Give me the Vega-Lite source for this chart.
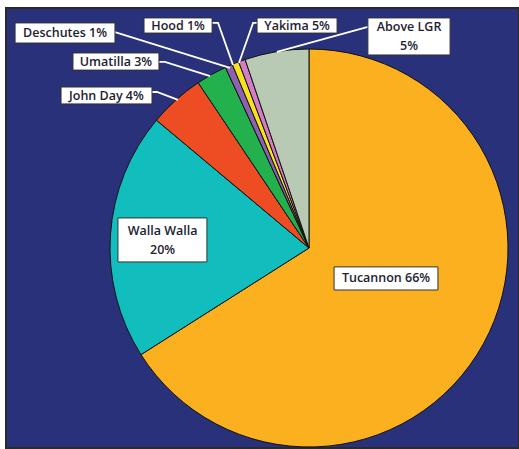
{
  "$schema": "https://vega.github.io/schema/vega-lite/v6.json",
  "autosize": {"type": "fit", "contains": "padding"},
  "width": 519,
  "height": 449,
  "padding": {"left": 6, "top": 8, "right": 0, "bottom": 1},
  "background": "white",
  "config": {"view": {"fill": "#28317A", "stroke": "#2a2a2a", "strokeWidth": 2}},
  "datasets": {
    "slices": [
      {"region": "Tucannon", "idx": 1, "value": 66.0},
      {"region": "Walla Walla", "idx": 2, "value": 20.1},
      {"region": "John Day", "idx": 3, "value": 4.5},
      {"region": "Umatilla", "idx": 4, "value": 2.5},
      {"region": "Deschutes", "idx": 5, "value": 0.6},
      {"region": "Hood", "idx": 6, "value": 0.55},
      {"region": "Yakima", "idx": 7, "value": 0.55},
      {"region": "Above LGR", "idx": 8, "value": 5.2}
    ],
    "labels": [
      {"region": "Tucannon", "text": "Tucannon 66%", "x": 0.387, "y": -0.153, "x1": 0.126, "x2": 0.648, "y1": -0.211, "y2": -0.095},
      {"region": "Walla Walla", "text": "Walla Walla\n20%", "x": -0.736, "y": 0.040, "x1": -0.960, "x2": -0.513, "y1": -0.070, "y2": 0.151},
      {"region": "John Day", "text": "John Day 4%", "x": -1.018, "y": 0.766, "x1": -1.246, "x2": -0.789, "y1": 0.724, "y2": 0.809},
      {"region": "Umatilla", "text": "Umatilla 3%", "x": -0.970, "y": 0.937, "x1": -1.186, "x2": -0.754, "y1": 0.894, "y2": 0.980},
      {"region": "Deschutes", "text": "Deschutes 1%", "x": -1.226, "y": 1.080, "x1": -1.477, "x2": -0.975, "y1": 1.030, "y2": 1.131},
      {"region": "Hood", "text": "Hood 1%", "x": -0.658, "y": 1.118, "x1": -0.829, "x2": -0.487, "y1": 1.080, "y2": 1.156},
      {"region": "Yakima", "text": "Yakima 5%", "x": -0.060, "y": 1.118, "x1": -0.261, "x2": 0.141, "y1": 1.080, "y2": 1.156},
      {"region": "Above LGR", "text": "Above LGR\n5%", "x": 0.503, "y": 1.063, "x1": 0.296, "x2": 0.709, "y1": 0.970, "y2": 1.156}
    ],
    "leaders": [
      {"region": "Deschutes", "seq": 1, "x": -0.975, "y": 1.085},
      {"region": "Deschutes", "seq": 2, "x": -0.397, "y": 0.905},
      {"region": "Hood", "seq": 1, "x": -0.487, "y": 1.131},
      {"region": "Hood", "seq": 2, "x": -0.457, "y": 1.131},
      {"region": "Hood", "seq": 3, "x": -0.382, "y": 0.920},
      {"region": "Yakima", "seq": 1, "x": -0.261, "y": 1.131},
      {"region": "Yakima", "seq": 2, "x": -0.281, "y": 1.131},
      {"region": "Yakima", "seq": 3, "x": -0.352, "y": 0.930},
      {"region": "Above LGR", "seq": 1, "x": 0.296, "y": 1.111},
      {"region": "Above LGR", "seq": 2, "x": -0.161, "y": 0.985},
      {"region": "Umatilla", "seq": 1, "x": -0.754, "y": 0.935},
      {"region": "Umatilla", "seq": 2, "x": -0.724, "y": 0.935},
      {"region": "Umatilla", "seq": 3, "x": -0.497, "y": 0.864},
      {"region": "John Day", "seq": 1, "x": -0.789, "y": 0.784},
      {"region": "John Day", "seq": 2, "x": -0.764, "y": 0.784},
      {"region": "John Day", "seq": 3, "x": -0.658, "y": 0.744}
    ]
  },
  "layer": [
    {
      "data": {"name": "slices"},
      "mark": {"type": "arc", "radius": 199, "stroke": "#111111", "strokeWidth": 1},
      "encoding": {
        "x": {"datum": 0, "type": "quantitative", "scale": {"domain": [-1.5226, 1.0553], "nice": false, "zero": false}, "axis": null},
        "y": {"datum": 0, "type": "quantitative", "scale": {"domain": [-1.005, 1.206], "nice": false, "zero": false}, "axis": null},
        "theta": {"field": "value", "type": "quantitative", "stack": true},
        "order": {"field": "idx", "type": "quantitative"},
        "color": {
          "field": "region", "type": "nominal", "legend": null,
          "scale": {
            "domain": ["Tucannon", "Walla Walla", "John Day", "Umatilla", "Deschutes", "Hood", "Yakima", "Above LGR"],
            "range": ["#FAB01F", "#12BDBE", "#EE4D24", "#22B14C", "#8C60B3", "#F6E31C", "#D47CC6", "#B8CAB4"]
          }
        }
      }
    },
    {
      "data": {"name": "leaders"},
      "mark": {"type": "line", "color": "#FFFFFF", "strokeWidth": 1.8},
      "encoding": {
        "x": {"field": "x", "type": "quantitative"},
        "y": {"field": "y", "type": "quantitative"},
        "detail": {"field": "region"},
        "order": {"field": "seq", "type": "quantitative"}
      }
    },
    {
      "data": {"name": "labels"},
      "mark": {"type": "rect", "fill": "#FFFFFF", "stroke": "#333333", "strokeWidth": 1},
      "encoding": {
        "x": {"field": "x1", "type": "quantitative"},
        "x2": {"field": "x2"},
        "y": {"field": "y1", "type": "quantitative"},
        "y2": {"field": "y2"}
      }
    },
    {
      "data": {"name": "labels"},
      "transform": [{"filter": "indexof(datum.text, '\\n') < 0"}],
      "mark": {"type": "text", "font": "Open Sans", "fontSize": 12.5, "fontWeight": 600, "color": "#1E2230", "align": "center", "baseline": "middle"},
      "encoding": {
        "x": {"field": "x", "type": "quantitative"},
        "y": {"field": "y", "type": "quantitative"},
        "text": {"field": "text"}
      }
    },
    {
      "data": {"name": "labels"},
      "transform": [{"filter": "indexof(datum.text, '\\n') >= 0"}],
      "mark": {"type": "text", "font": "Open Sans", "fontSize": 12.5, "fontWeight": 600, "color": "#1E2230", "lineBreak": "\n", "lineHeight": 19, "align": "center", "baseline": "middle", "dy": -9.5},
      "encoding": {
        "x": {"field": "x", "type": "quantitative"},
        "y": {"field": "y", "type": "quantitative"},
        "text": {"field": "text"}
      }
    }
  ]
}
